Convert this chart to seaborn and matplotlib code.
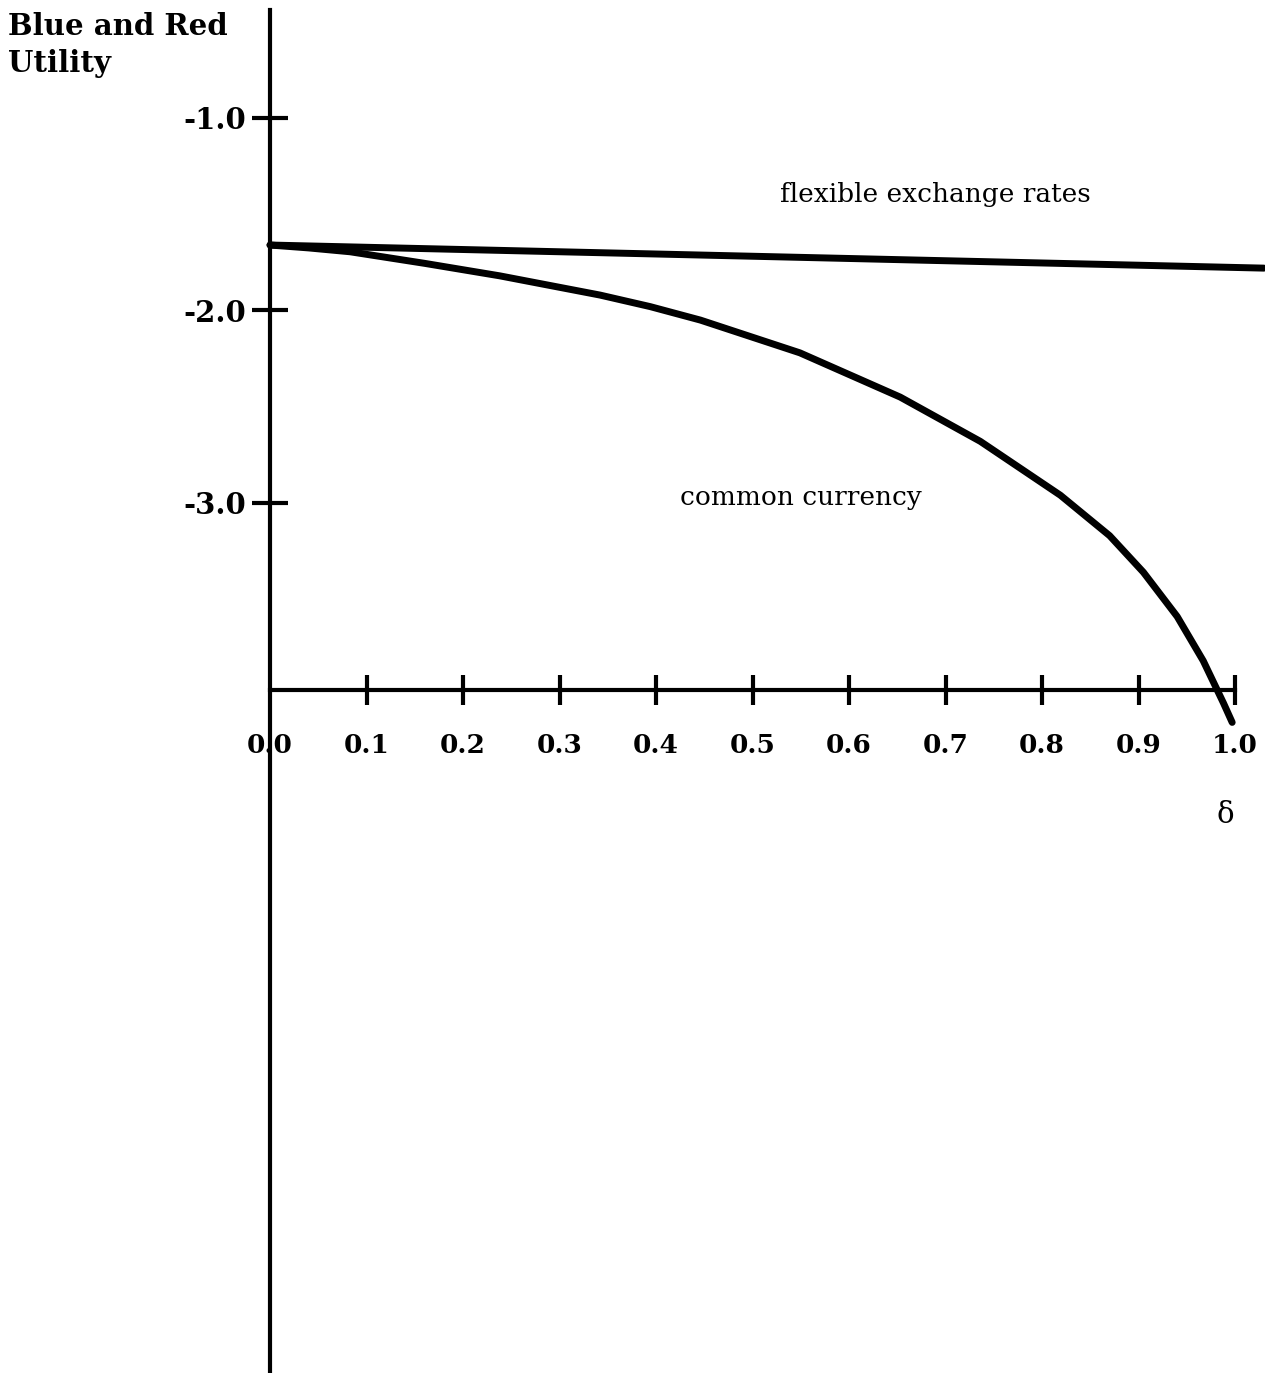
import seaborn as sns
import matplotlib.pyplot as plt
import pandas as pd

# values
delta = [0.0, 0.04, 0.083, 0.16, 0.238, 0.342, 0.394, 0.446, 0.549, 0.653,
         0.736, 0.819, 0.870, 0.905, 0.940, 0.967, 0.988, 0.997]
common_currency = [-1.66, -1.675, -1.695, -1.755, -1.82, -1.92, -1.98, -2.05, -2.22, -2.45,
                   -2.68, -2.96, -3.17, -3.36, -3.59, -3.82, -4.04, -4.14]
flex_delta = [0.0, 1.03]
flexible_rates = [-1.66, -1.78]

x_ticks = [0.0, 0.1, 0.2, 0.3, 0.4, 0.5, 0.6, 0.7, 0.8, 0.9, 1.0]
x_labels = ['0.0', '0.1', '0.2', '0.3', '0.4', '0.5', '0.6', '0.7', '0.8', '0.9', '1.0']
y_ticks = [-1.0, -2.0, -3.0]
y_labels = ['-1.0', '-2.0', '-3.0']

cc = pd.DataFrame({'delta': delta, 'utility': common_currency})
fl = pd.DataFrame({'delta': flex_delta, 'utility': flexible_rates})

sns.set_style('white')
plt.rcParams['font.family'] = ['DejaVu Serif']
plt.rcParams['text.color'] = 'black'

fig = plt.figure(figsize=(12.65, 13.73), dpi=100)
ax = fig.add_axes([0, 0, 1, 1])

sns.lineplot(data=fl, x='delta', y='utility', color='black', lw=5, ax=ax,
             solid_capstyle='round')
sns.lineplot(data=cc, x='delta', y='utility', color='black', lw=5, ax=ax,
             solid_joinstyle='round', solid_capstyle='round')

ax.set_xlim(-0.2798, 1.031)
ax.set_ylim(-7.52, -0.387)

# axes drawn as crossing lines
ax.spines['top'].set_visible(False)
ax.spines['right'].set_visible(False)
ax.spines['left'].set_position(('data', 0))
ax.spines['bottom'].set_position(('data', -3.97))
ax.spines['left'].set_bounds(-7.52, -0.44)
ax.spines['bottom'].set_bounds(0, 1.0)
for s in ['left', 'bottom']:
    ax.spines[s].set_linewidth(3)
    ax.spines[s].set_color('black')

ax.set_xticks(x_ticks)
ax.set_xticklabels(x_labels, fontsize=19, fontweight='bold')
ax.set_yticks(y_ticks)
ax.set_yticklabels(y_labels, fontsize=21, fontweight='bold')
ax.tick_params(axis='x', bottom=True, direction='inout', length=22, width=3, pad=20,
               colors='black')
ax.tick_params(axis='y', left=True, direction='inout', length=26, width=3, pad=4,
               colors='black')
ax.xaxis.get_major_ticks()[0].tick1line.set_visible(False)
ax.set_xlabel('')
ax.set_ylabel('')

fig.text(8 / 1265, 1 - 12 / 1373, 'Blue and Red\nUtility', fontsize=21,
         fontweight='bold', va='top', ha='left', linespacing=1.35)
ax.text(0.528, -1.40, 'flexible exchange rates', fontsize=19, va='center', ha='left')
ax.text(0.425, -2.97, 'common currency', fontsize=19, va='center', ha='left')
ax.text(0.990, -4.62, 'δ', fontsize=21, va='center', ha='center')

fig.savefig('out.png', dpi=100)
